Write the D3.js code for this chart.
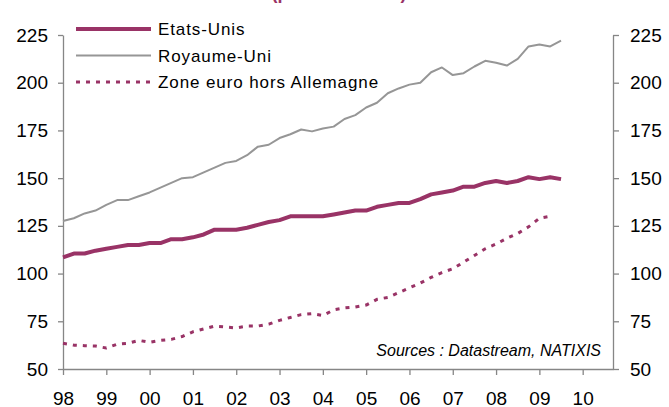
<!DOCTYPE html>
<html>
<head>
<meta charset="utf-8">
<script src="https://cdn.jsdelivr.net/npm/d3@7"></script>
<style>
  body { margin: 0; background: #fff; }
  svg { display: block; font-family: "Liberation Sans", Arial, sans-serif; }
  .axis path, .axis line { stroke: #868686; stroke-width: 1.3; }
  .axis text { font-size: 19px; fill: #000; }
</style>
</head>
<body>
<svg id="chart" width="669" height="407"></svg>
<script>
// quarterly series, 1998 Q1 -> 2009 Q3
const etatsUnis = [108.5, 110.5, 110.5, 112, 113, 114, 115, 115, 116, 116,
  118, 118, 119, 120.5, 123, 123, 123, 124, 125.5, 127,
  128, 130, 130, 130, 130, 131, 132, 133, 133, 135,
  136, 137, 137, 139, 141.5, 142.5, 143.5, 145.5, 145.5, 147.5,
  148.5, 147.5, 148.5, 150.5, 149.5, 150.5, 149.5];
const royaumeUni = [127.5, 129, 131.5, 133, 136, 138.5, 138.5, 140.5, 142.5, 145,
  147.5, 150, 150.5, 153, 155.5, 158, 159, 162, 166.5, 167.5,
  171, 173, 175.5, 174.5, 176, 177, 181, 183, 187, 189.5,
  194.5, 197, 199, 200, 205.5, 208, 204, 205, 208.5, 211.5,
  210.5, 209, 212.5, 219, 220, 219, 222];
const zoneEuro = [63.5, 62.5, 62.2, 62, 61, 63, 63.5, 65, 64, 65,
  65.5, 67, 69.5, 71, 72.5, 72, 71.5, 72.5, 72.5, 73.5,
  75.5, 77, 78.5, 79, 78, 81, 82, 82.5, 83.5, 86.5,
  87.5, 90, 92.5, 95, 98, 100.5, 102.5, 106, 109.5, 113,
  115.5, 118.5, 121, 124.5, 129, 130];
const yearLabels = ['98', '99', '00', '01', '02', '03', '04', '05', '06', '07', '08', '09', '10'];
const yTicks = [50, 75, 100, 125, 150, 175, 200, 225];
const seriesNames = ['Etats-Unis', 'Royaume-Uni', 'Zone euro hors Allemagne'];

const plotLeft = 63;
const plotRight = 613;
const plotTop = 35;
const plotBottom = 369;

const svg = d3.select('#chart');

const x = d3.scaleLinear()
  .domain([0, 50.8])
  .range([plotLeft, plotRight]);
const y = d3.scaleLinear()
  .domain([50, 225])
  .range([plotBottom, plotTop]);

// title, mostly cut off by the top edge
svg.append('text')
  .text('(prix constants)')
  .attr('x', 339)
  .attr('y', -1.5)
  .attr('text-anchor', 'middle')
  .attr('fill', '#993366')
  .attr('font-weight', 'bold')
  .attr('font-size', 18);

svg.append('g')
  .attr('class', 'axis')
  .attr('transform', `translate(${plotLeft}, 0)`)
  .call(d3.axisLeft(y).tickValues(yTicks).tickSize(5).tickSizeOuter(0).tickPadding(10));

svg.append('g')
  .attr('class', 'axis')
  .attr('transform', `translate(${plotRight}, 0)`)
  .call(d3.axisRight(y).tickValues(yTicks).tickSize(6).tickSizeOuter(0).tickPadding(11));

svg.append('g')
  .attr('class', 'axis')
  .attr('transform', `translate(0, ${plotBottom})`)
  .call(d3.axisBottom(x)
    .tickValues(yearLabels.map((d, i) => i * 4))
    .tickFormat((d) => yearLabels[d / 4])
    .tickSize(6)
    .tickSizeOuter(0)
    .tickPadding(17));

const line = d3.line()
  .x((d, i) => x(i))
  .y((d) => y(d));

const styles = [
  { color: '#993366', width: 4, dash: null },
  { color: '#969696', width: 2, dash: null },
  { color: '#993366', width: 3, dash: '4 6' },
];
const allSeries = [etatsUnis, royaumeUni, zoneEuro];

// draw order: UK, euro zone, then US on top
[1, 2, 0].forEach((k) => {
  const s = styles[k];
  svg.append('path')
    .datum(allSeries[k])
    .attr('d', line)
    .attr('fill', 'none')
    .attr('stroke', s.color)
    .attr('stroke-width', s.width)
    .attr('stroke-dasharray', s.dash)
    .attr('stroke-linejoin', 'round');
});

// legend
const legend = svg.append('g');
legend.selectAll('line')
  .data(seriesNames)
  .enter()
  .append('line')
  .attr('x1', 76)
  .attr('x2', 151)
  .attr('y1', (d, i) => 29 + i * 26.5)
  .attr('y2', (d, i) => 29 + i * 26.5)
  .attr('stroke', (d, i) => styles[i].color)
  .attr('stroke-width', (d, i) => styles[i].width)
  .attr('stroke-dasharray', (d, i) => styles[i].dash);

legend.selectAll('text')
  .data(seriesNames)
  .enter()
  .append('text')
  .text((d) => d)
  .attr('x', 158)
  .attr('y', (d, i) => 35 + i * 26.5)
  .attr('font-size', 17)
  .attr('letter-spacing', 0.9);

svg.append('text')
  .text('Sources : Datastream, NATIXIS')
  .attr('x', 601)
  .attr('y', 356)
  .attr('text-anchor', 'end')
  .attr('font-style', 'italic')
  .attr('font-size', 16);
</script>
</body>
</html>
